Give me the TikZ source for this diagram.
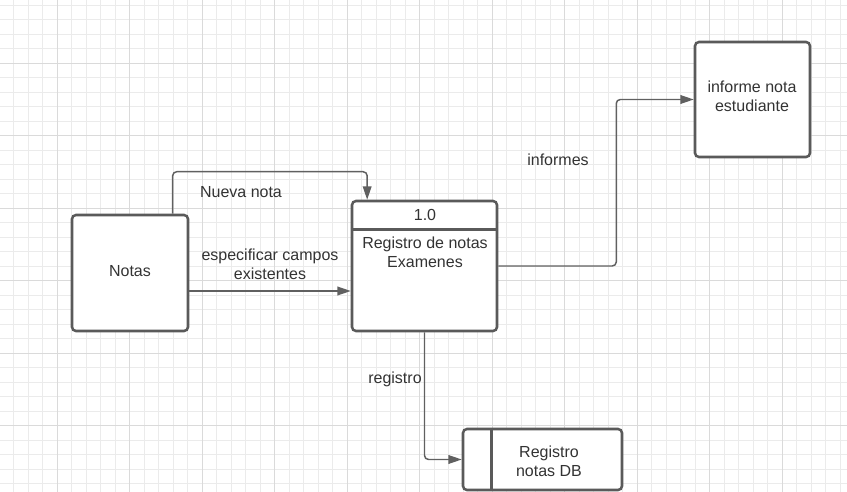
\documentclass[tikz,border=0pt]{standalone}
\usepackage{fontspec}
\setmainfont{Liberation Sans}
\usepackage{xcolor}
\usepackage{tikz}
\usetikzlibrary{arrows.meta, positioning, calc}
\definecolor{boxgray}{HTML}{5A5A5A}
\definecolor{linegray}{HTML}{606060}
\definecolor{textgray}{HTML}{333333}
\definecolor{gridminor}{HTML}{EBEBEB}
\definecolor{gridmajor}{HTML}{DADADA}
\tikzstyle{block} = [rectangle, draw=boxgray, fill=white, line width=1.9pt,
    rounded corners=3pt, align=center, text=textgray,
    font=\fontsize{12}{14.5}\selectfont]
\tikzstyle{arrow} = [-{Triangle[length=10pt,width=6.5pt]}, draw=linegray,
    line width=1.1pt, rounded corners=3pt]
\tikzstyle{lbl} = [align=center, text=textgray, inner sep=0pt,
    font=\fontsize{12}{14.5}\selectfont]
\tikzstyle{txt} = [align=center, text=textgray, inner sep=0pt,
    font=\fontsize{12}{14.5}\selectfont]

\begin{document}
\begin{tikzpicture}[x=0.75pt, y=-0.75pt]
    \useasboundingbox (0,0) rectangle (847,492);
    \fill[white] (0,0) rectangle (847,492);
    % Grid
    \foreach \i in {0,...,59} \draw[gridminor, line width=0.75pt] ({-0.7+14.5*\i},0) -- ++(0,492);
    \foreach \j in {0,...,34} \draw[gridminor, line width=0.75pt] (0,{5.3+14.5*\j}) -- ++(847,0);
    \foreach \i in {0,...,11} \draw[gridmajor, line width=0.75pt] ({57.3+72.5*\i},0) -- ++(0,492);
    \foreach \j in {0,...,6} \draw[gridmajor, line width=0.75pt] (0,{63.3+72.5*\j}) -- ++(847,0);

    % Entities and process
    \node[block, minimum width=87pt, minimum height=87pt] (notas) at (130,273) {};
    \node[txt] (notastxt) at (130,271) {Notas};
    \node[block, minimum width=108.75pt, minimum height=97.5pt] (proc) at (424.5,266) {};
    \draw[draw=boxgray, line width=1.9pt] ([yshift=-22.5pt]proc.north west) -- ([yshift=-22.5pt]proc.north east);
    \node[txt] (procid) at (425,215) {1.0};
    \node[txt] (procname) at (425,252) {Registro de notas\\Examenes};
    \node[block, minimum width=86.25pt, minimum height=86.25pt] (informe) at (752.5,99.5) {};
    \node[txt] (informetxt) at (752,96.5) {informe nota\\estudiante};
    \node[block, minimum width=119.25pt, minimum height=45.75pt] (db) at (542.5,459.5) {};
    \draw[draw=boxgray, line width=1.9pt] ([xshift=22.5pt]db.north west) -- ([xshift=22.5pt]db.south west);
    \node[txt] (dbtxt) at (549,461) {Registro\\notas DB};

    % Flows
    \draw[arrow] ([xshift=32pt]notas.north) -- ++(0,-42) -| ([xshift=-43pt]proc.north);
    \draw[arrow] ([yshift=-13.5pt]notas.east) -- ([yshift=-13.5pt]notas.east -| proc.west);
    \draw[arrow] (proc.east) -- ++(118,0) |- (informe.west);
    \draw[arrow] (proc.south) |- (db.west);

    % Labels
    \node[lbl] (nueva) at (241,192) {Nueva nota};
    \node[lbl] (especificar) at (270,264.5) {especificar campos\\existentes};
    \node[lbl] (informes) at (558,160) {informes};
    \node[lbl] (registro) at (395,379) {registro};
\end{tikzpicture}
\end{document}
